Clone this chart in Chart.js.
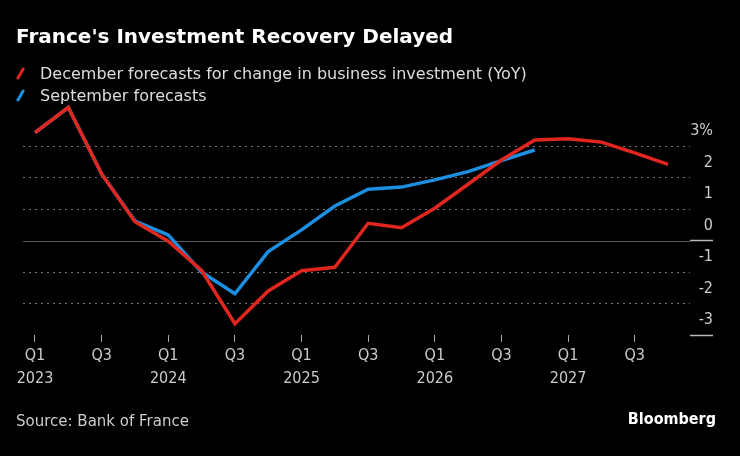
<!DOCTYPE html>
<html>
<head>
<meta charset="utf-8">
<script src="https://cdn.jsdelivr.net/npm/chart.js@4"></script>
<style>
  body { margin: 0; background: #000; }
  #wrap { position: relative; width: 740px; height: 456px; background: #000; overflow: hidden;
          font-family: "DejaVu Sans", sans-serif; }
  #title { position: absolute; left: 16px; top: 24px; color: #fff; font-weight: bold; font-size: 20px; }
  .leg { position: absolute; left: 40px; color: #ddd; font-size: 16px; }
  .slash { position: absolute; left: 19px; width: 3px; height: 13px; transform: rotate(30deg); border-radius: 1px; }
  #source { position: absolute; left: 16px; top: 412px; color: #ccc; font-size: 15px; }
  #brand { position: absolute; right: 24px; top: 409px; color: #fff; font-weight: bold; font-size: 16px;
           font-family: "DejaVu Sans Condensed", "DejaVu Sans", sans-serif; }
  canvas { position: absolute; left: 0; top: 0; }
</style>
</head>
<body>
<div id="wrap">
  <canvas id="chart" width="740" height="456"></canvas>
  <div id="title">France's Investment Recovery Delayed</div>
  <div class="slash" style="top:67px; background:#e0261f;"></div>
  <div class="leg" style="top:64px;">December forecasts for change in business investment (YoY)</div>
  <div class="slash" style="top:89px; background:#1d8fe1;"></div>
  <div class="leg" style="top:86px;">September forecasts</div>
  <div id="source">Source: Bank of France</div>
  <div id="brand">Bloomberg</div>
</div>
<script>
// Quarterly, Q1 2023 .. Q4 2027
const quarters = [
  'Q1 2023', 'Q2 2023', 'Q3 2023', 'Q4 2023',
  'Q1 2024', 'Q2 2024', 'Q3 2024', 'Q4 2024',
  'Q1 2025', 'Q2 2025', 'Q3 2025', 'Q4 2025',
  'Q1 2026', 'Q2 2026', 'Q3 2026', 'Q4 2026',
  'Q1 2027', 'Q2 2027', 'Q3 2027', 'Q4 2027'
];
const decemberForecast = [
  3.43, 4.23, 2.12, 0.60, -0.02, -0.95, -2.64, -1.60,
  -0.96, -0.85, 0.55, 0.41, 1.03, 1.79, 2.56, 3.20,
  3.24, 3.13, 2.79, 2.42
];
const septemberForecast = [
  3.43, 4.23, 2.12, 0.62, 0.18, -1.0, -1.69, -0.35,
  0.34, 1.10, 1.63, 1.70, 1.93, 2.19, 2.54, 2.88
];
const yTicks = [-3, -2, -1, 0, 1, 2, 3];

const toPoints = (arr) => arr.map((v, i) => ({ x: i, y: v }));
const tickFont = { family: 'DejaVu Sans Condensed', size: 16 };

// solid zero line on top of the dotted grid
const zeroLine = {
  id: 'zeroLine',
  beforeDatasetsDraw(chart) {
    const { ctx, chartArea, scales } = chart;
    const y = Math.round(scales.y.getPixelForValue(0)) + 0.5;
    ctx.save();
    ctx.strokeStyle = '#5a5a5a';
    ctx.lineWidth = 1;
    ctx.beginPath();
    ctx.moveTo(chartArea.left, y);
    ctx.lineTo(chartArea.right, y);
    ctx.stroke();
    ctx.restore();
  }
};

new Chart(document.getElementById('chart'), {
  type: 'line',
  data: {
    datasets: [
      {
        label: 'December forecasts for change in business investment (YoY)',
        data: toPoints(decemberForecast),
        borderColor: '#e0261f',
        borderWidth: 3.5,
        pointRadius: 0,
        tension: 0
      },
      {
        label: 'September forecasts',
        data: toPoints(septemberForecast),
        borderColor: '#1d8fe1',
        borderWidth: 3.5,
        pointRadius: 0,
        tension: 0
      }
    ]
  },
  options: {
    responsive: false,
    animation: false,
    layout: { padding: { left: 23, right: 27, top: 99, bottom: 63 } },
    plugins: { legend: { display: false }, tooltip: { enabled: false } },
    scales: {
      x: {
        type: 'linear',
        min: -0.36,
        max: 19.66,
        afterBuildTicks: (scale) => {
          scale.ticks = quarters.map((q, i) => ({ value: i })).filter((t) => t.value % 2 === 0);
        },
        afterFit: (scale) => { scale.height = 58; },
        ticks: {
          color: '#cccccc',
          font: { ...tickFont, lineHeight: 1.45 },
          maxRotation: 0,
          autoSkip: false,
          padding: 2,
          callback: (v) => {
            const [q, yr] = quarters[v].split(' ');
            return q === 'Q1' ? [q, yr] : [q];
          }
        },
        grid: {
          drawOnChartArea: false,
          tickLength: 7,
          tickColor: '#aaaaaa',
          tickWidth: 1
        },
        border: { display: false }
      },
      y: {
        position: 'right',
        min: -3,
        max: 4.5,
        afterBuildTicks: (scale) => {
          scale.ticks = yTicks.map((v) => ({ value: v }));
        },
        afterFit: (scale) => { scale.width = 23; },
        ticks: {
          color: '#cccccc',
          font: tickFont,
          crossAlign: 'far',
          labelOffset: -15,
          padding: 0,
          callback: (v) => (v === 3 ? '3%' : String(v))
        },
        grid: {
          color: (c) => (c.tick && (c.tick.value === 0 || c.tick.value === -3) ? 'rgba(0,0,0,0)' : '#777777'),
          lineWidth: 1,
          tickLength: 23,
          tickColor: (c) => (c.tick && (c.tick.value === 0 || c.tick.value === -3) ? '#bbbbbb' : 'rgba(0,0,0,0)'),
          tickWidth: 1.5
        },
        border: { display: false, dash: [2, 4] }
      }
    }
  },
  plugins: [zeroLine]
});
</script>
</body>
</html>
